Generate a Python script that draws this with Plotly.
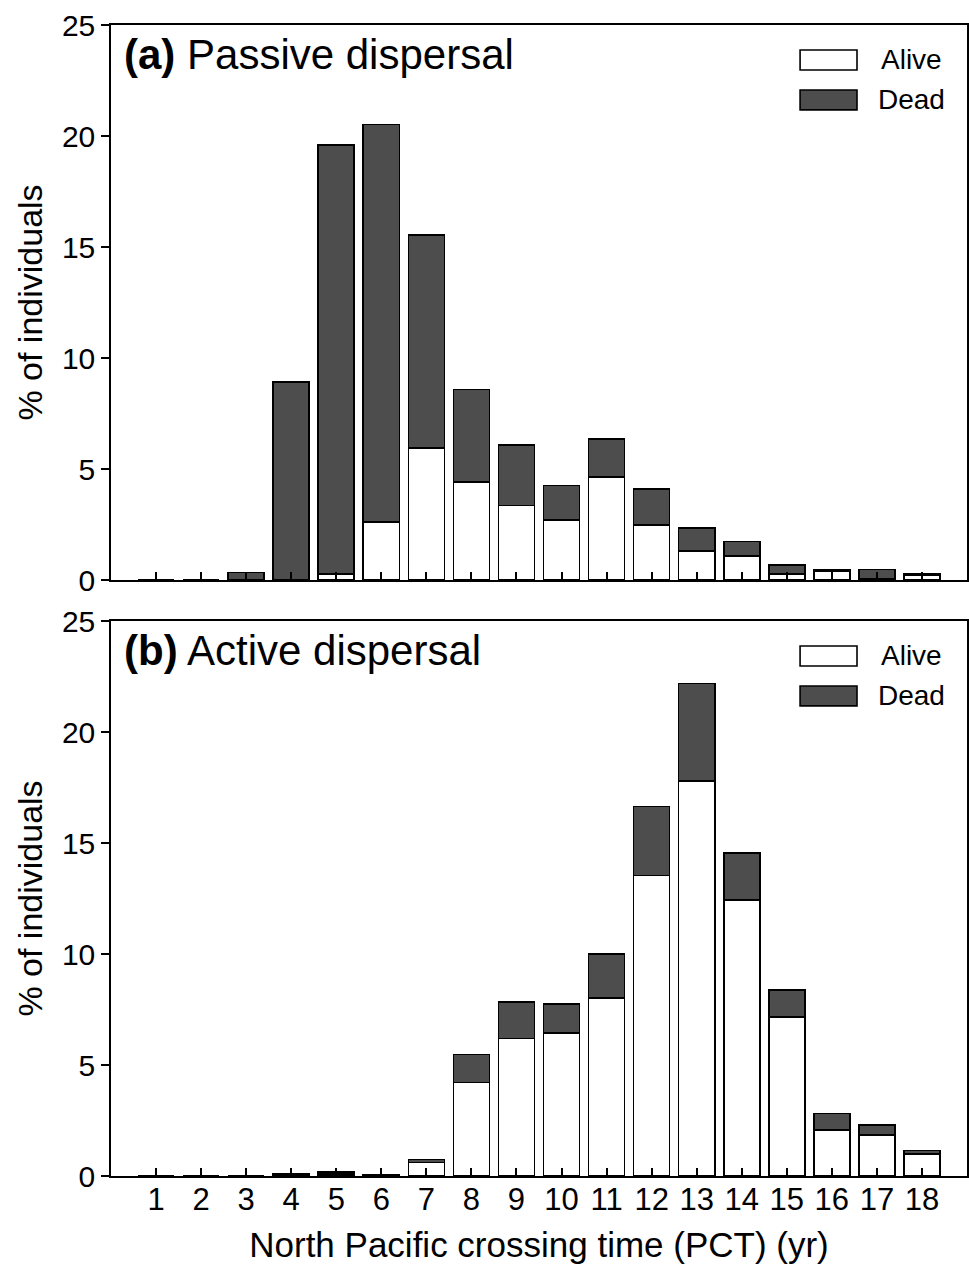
import plotly.graph_objects as go

# ---------------- data ----------------
pct = list(range(1, 19))
tick_labels = [str(v) for v in pct]

passive_alive = [0, 0, 0, 0, 0.28, 2.60, 5.95, 4.41, 3.36, 2.70, 4.64, 2.49, 1.31, 1.08, 0.26, 0.40, 0.05, 0.22]
passive_dead = [0, 0, 0.33, 8.93, 19.31, 17.91, 9.60, 4.17, 2.71, 1.55, 1.70, 1.61, 1.02, 0.65, 0.42, 0.05, 0.43, 0.04]

active_alive = [0, 0, 0, 0.02, 0.10, 0.03, 0.60, 4.22, 6.20, 6.44, 8.02, 13.53, 17.79, 12.43, 7.16, 2.07, 1.85, 0.98]
active_dead = [0, 0, 0, 0.06, 0.07, 0.03, 0.15, 1.26, 1.64, 1.31, 1.98, 3.11, 4.40, 2.11, 1.22, 0.74, 0.44, 0.16]

panel_titles = ["<b>(a)</b> Passive dispersal", "<b>(b)</b> Active dispersal"]
legend_names = ["Alive", "Dead"]

# ---------------- style ----------------
FONT = "Arial, Liberation Sans, sans-serif"
DEAD_COLOR = "#4d4d4d"
ALIVE_COLOR = "#ffffff"
LINE = dict(color="black", width=1.6)
BAR_W = 0.8

fig = go.Figure()

panels = [
    ("x", "y", passive_alive, passive_dead),
    ("x2", "y2", active_alive, active_dead),
]
for xa, ya, alive, dead in panels:
    fig.add_trace(go.Bar(x=pct, y=alive, xaxis=xa, yaxis=ya, width=BAR_W,
                         marker=dict(color=ALIVE_COLOR, line=LINE),
                         name=legend_names[0], showlegend=False))
    fig.add_trace(go.Bar(x=pct, y=dead, xaxis=xa, yaxis=ya, width=BAR_W,
                         marker=dict(color=DEAD_COLOR, line=LINE),
                         name=legend_names[1], showlegend=False))

H_TOTAL = 1266 - 25 - 90
top_dom = [596 / H_TOTAL, 1.0]
bot_dom = [0.0, 555 / H_TOTAL]

xcommon = dict(range=[0, 19], tickmode="array", tickvals=pct, ticktext=tick_labels,
               ticks="inside", ticklen=8, tickwidth=1.5, tickcolor="black",
               showline=True, linecolor="black", linewidth=1.5, mirror=True,
               showgrid=False, zeroline=False, automargin=False,
               tickfont=dict(family=FONT, size=31, color="black"))
ycommon = dict(range=[0, 25], tickmode="array", tickvals=[0, 5, 10, 15, 20, 25],
               ticks="outside", ticklen=8, tickwidth=1.5, tickcolor="black",
               showline=True, linecolor="black", linewidth=1.5, mirror=True,
               showgrid=False, zeroline=False, automargin=False,
               tickfont=dict(family=FONT, size=30, color="black"),
               title=dict(text="% of individuals", font=dict(family=FONT, size=34, color="black"),
                          standoff=9))

fig.update_layout(
    width=969, height=1266,
    margin=dict(l=111, r=2, t=25, b=90),
    paper_bgcolor="white", plot_bgcolor="white",
    barmode="stack", bargap=0.2,
    showlegend=False,
    font=dict(family=FONT, color="black"),
    xaxis=dict(xcommon, anchor="y", showticklabels=False),
    yaxis=dict(ycommon, anchor="x", domain=top_dom),
    xaxis2=dict(xcommon, anchor="y2", ticklabelstandoff=-5,
                title=dict(text="North Pacific crossing time (PCT) (yr)",
                           font=dict(family=FONT, size=35, color="black"), standoff=17)),
    yaxis2=dict(ycommon, anchor="x2", domain=bot_dom),
)

# panel titles and legends
for i, (xa, ya) in enumerate([("x", "y"), ("x2", "y2")]):
    xd, yd = f"{xa} domain", f"{ya} domain"
    fig.add_annotation(x=0.013, y=0.946, xref=xd, yref=yd, xanchor="left", yanchor="middle",
                       text=panel_titles[i], showarrow=False,
                       font=dict(family=FONT, size=42, color="black"))
    # legend boxes
    fig.add_shape(type="rect", xref=xd, yref=yd, x0=0.805, x1=0.8715, y0=0.919, y1=0.955,
                  fillcolor=ALIVE_COLOR, line=LINE)
    fig.add_shape(type="rect", xref=xd, yref=yd, x0=0.805, x1=0.8715, y0=0.847, y1=0.883,
                  fillcolor=DEAD_COLOR, line=LINE)
    fig.add_annotation(x=0.935, y=0.937, xref=xd, yref=yd, xanchor="center", yanchor="middle",
                       text=legend_names[0], showarrow=False,
                       font=dict(family=FONT, size=28, color="black"))
    fig.add_annotation(x=0.935, y=0.865, xref=xd, yref=yd, xanchor="center", yanchor="middle",
                       text=legend_names[1], showarrow=False,
                       font=dict(family=FONT, size=28, color="black"))

fig.write_html("out.html", config={"displayModeBar": False},
               post_script="document.body.style.margin='0';document.body.style.overflow='hidden';")
